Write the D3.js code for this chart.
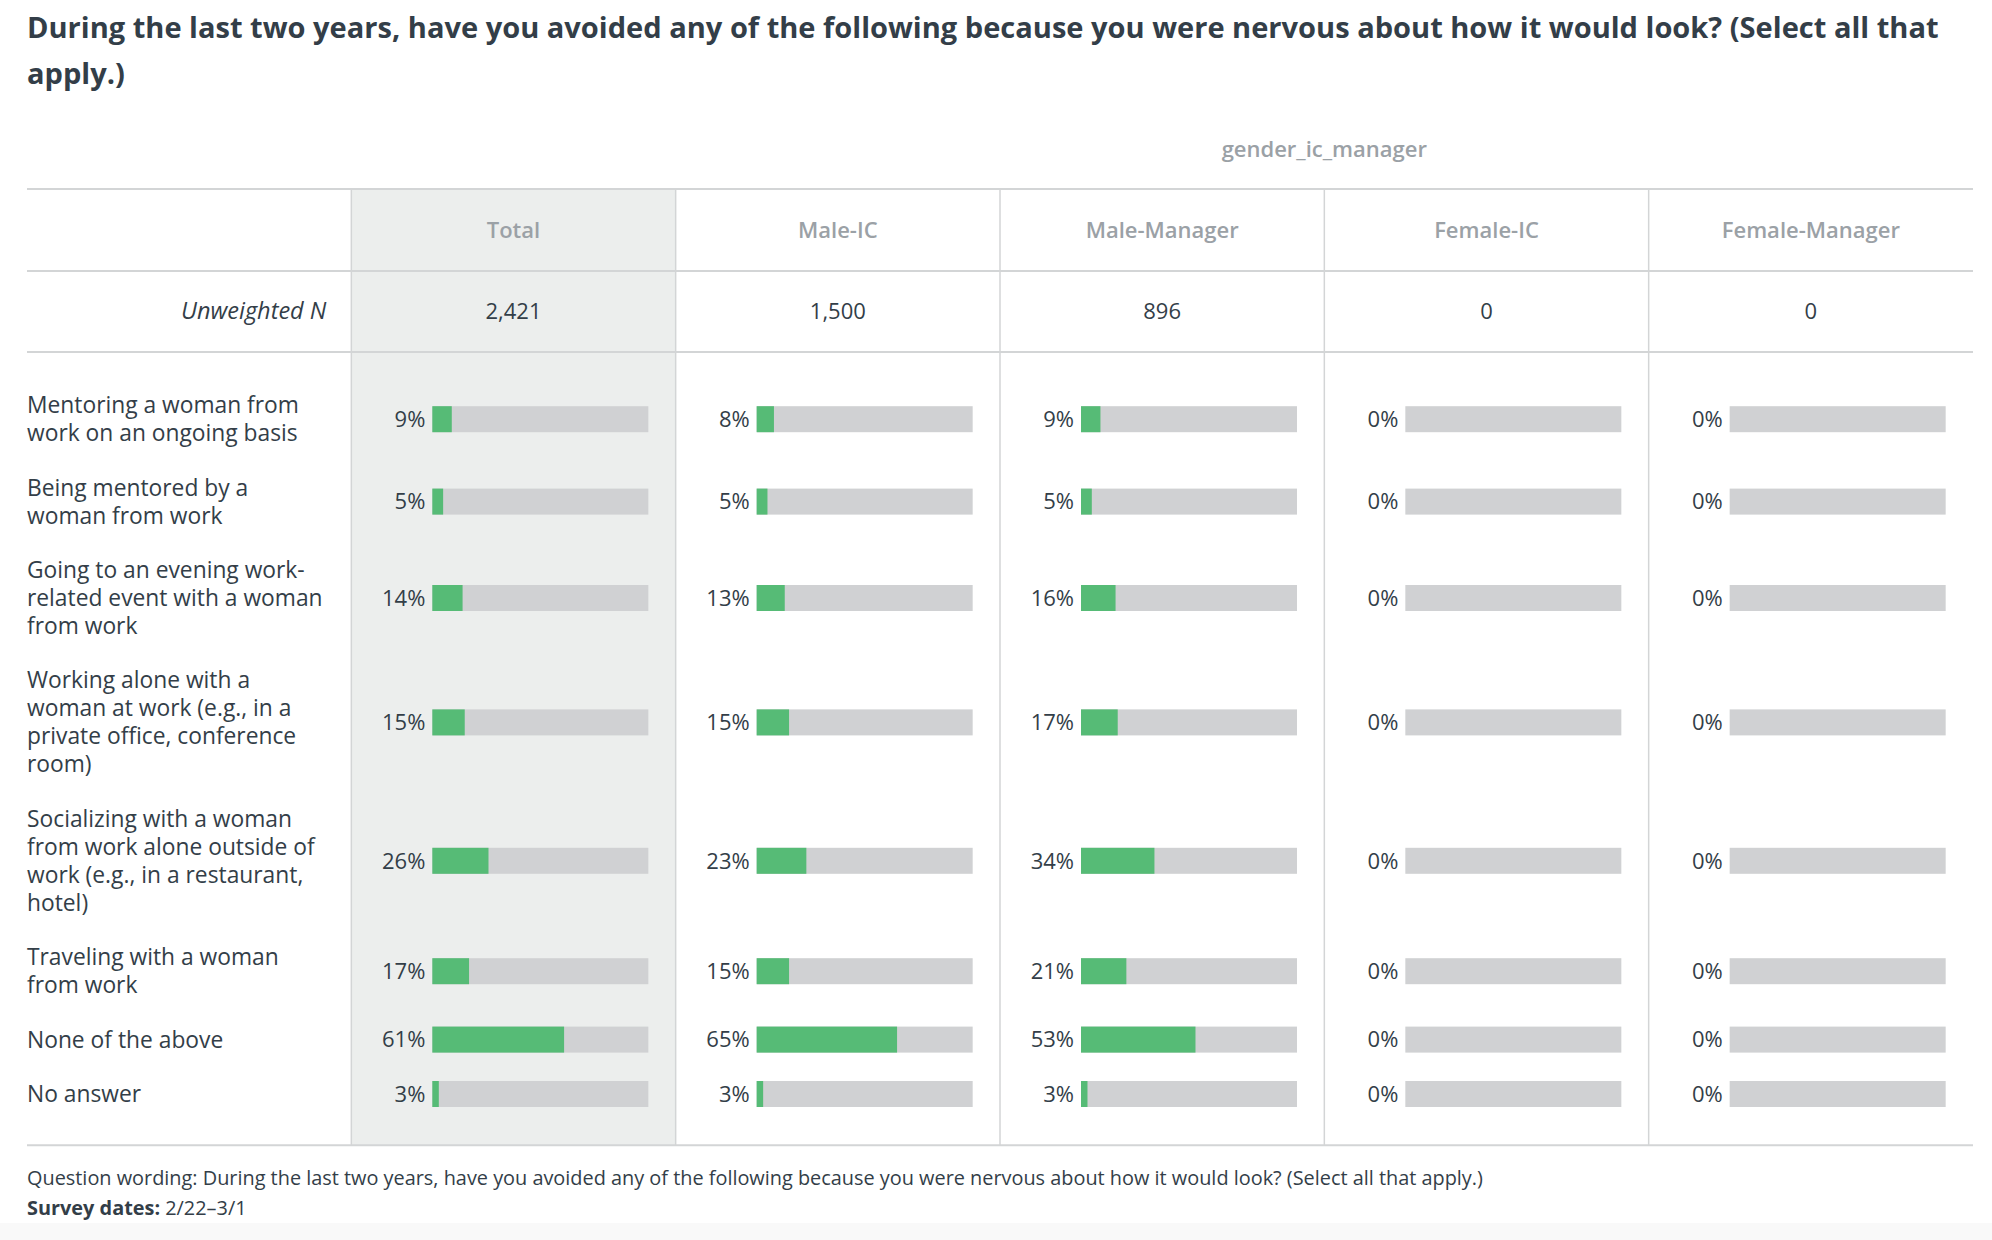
<!DOCTYPE html>
<html>
<head>
	<meta charset="utf-8">
	<title>Avoided because nervous about how it would look</title>
	<script src="https://cdn.jsdelivr.net/npm/d3@7"></script>
	<style>
		body { margin: 0; background: #fff; }
		text { font-family: "Open Sans", Roboto, sans-serif; }
	</style>
</head>
<body>
	<svg id="chart" width="1992" height="1240"></svg>
	<script>
		// data
		var titleLines = ["During the last two years, have you avoided any of the following because you were nervous about how it would look? (Select all that",
		                  "apply.)"]
		var spanner = "gender_ic_manager"
		var groups = ["Total", "Male-IC", "Male-Manager", "Female-IC", "Female-Manager"]
		var unweightedN = ["2,421", "1,500", "896", "0", "0"]
		var categories = [
			["Mentoring a woman from", "work on an ongoing basis"],
			["Being mentored by a", "woman from work"],
			["Going to an evening work-", "related event with a woman", "from work"],
			["Working alone with a", "woman at work (e.g., in a", "private office, conference", "room)"],
			["Socializing with a woman", "from work alone outside of", "work (e.g., in a restaurant,", "hotel)"],
			["Traveling with a woman", "from work"],
			["None of the above"],
			["No answer"]
		]
		var totalPct         = [9, 5, 14, 15, 26, 17, 61, 3]
		var maleICPct        = [8, 5, 13, 15, 23, 15, 65, 3]
		var maleManagerPct   = [9, 5, 16, 17, 34, 21, 53, 3]
		var femaleICPct      = [0, 0, 0, 0, 0, 0, 0, 0]
		var femaleManagerPct = [0, 0, 0, 0, 0, 0, 0, 0]
		var wording = "Question wording: During the last two years, have you avoided any of the following because you were nervous about how it would look? (Select all that apply.)"
		var surveyDates = "2/22\u20133/1"

		var series = [totalPct, maleICPct, maleManagerPct, femaleICPct, femaleManagerPct]

		var dark = "#333e48", grey = "#9ba1a6", rule = "#d3d5d6"
		var green = "#56bb76", track = "#d0d1d3", shade = "#eceeed"

		var svg = d3.select("#chart")
		var W = 1992, left = 27, right = 1973
		var tableTop = 189, headBottom = 271, nBottom = 352
		var lineH = 28, rowPad = 26.4, bodyPad = 26

		// shrink or grow a text node's font until it spans the wanted width
		function fitWidth(sel, want) {
			var node = sel.node(), fs = +sel.attr("font-size")
			var len = node.getComputedTextLength()
			sel.attr("font-size", fs * want / len)
		}

		// page band at the bottom
		svg.append("rect").attr("x", 0).attr("y", 1223).attr("width", W).attr("height", 17).attr("fill", "#f9f9f9")

		// columns
		var col = d3.scaleBand().domain(["label"].concat(groups)).range([left, right])
		var cw = col.bandwidth()

		// row layout from line counts
		var rowTops = [], y0 = nBottom + bodyPad
		categories.forEach(function(c) {
			var h = c.length * lineH + rowPad
			rowTops.push({top: y0, h: h})
			y0 += h
		})
		var tableBottom = y0 + bodyPad - 2

		// Total column shading
		svg.append("rect")
			.attr("x", col("Total")).attr("y", tableTop)
			.attr("width", cw).attr("height", tableBottom - tableTop)
			.attr("fill", shade)

		// vertical rules
		svg.selectAll("line.v")
			.data(groups)
			.enter().append("line")
			.attr("x1", d => col(d)).attr("x2", d => col(d))
			.attr("y1", tableTop).attr("y2", tableBottom)
			.attr("stroke", rule).attr("stroke-width", 1.5)

		// horizontal rules
		svg.selectAll("line.h")
			.data([tableTop, headBottom, nBottom, tableBottom])
			.enter().append("line")
			.attr("x1", left).attr("x2", right)
			.attr("y1", d => d).attr("y2", d => d)
			.attr("stroke", rule).attr("stroke-width", 2)

		// title
		var title = svg.append("text")
			.attr("x", left).attr("y", 28).attr("dy", "0.35em")
			.attr("fill", dark).attr("font-size", 28).attr("font-weight", 700)
		title.selectAll("tspan").data(titleLines).enter().append("tspan")
			.attr("x", left).attr("dy", (d, i) => i ? 46 : "0.35em")
			.text(d => d)
		var t1 = title.select("tspan").node()
		title.attr("font-size", 28 * 1913 / t1.getComputedTextLength())

		// spanner over the breakdown columns
		svg.append("text")
			.attr("x", (col("Male-IC") + right) / 2).attr("y", 149).attr("dy", "0.35em")
			.attr("text-anchor", "middle").attr("fill", grey)
			.attr("font-size", 22).attr("font-weight", 600)
			.text(spanner)

		// column headers
		svg.selectAll("text.head")
			.data(groups)
			.enter().append("text")
			.attr("x", d => col(d) + cw / 2).attr("y", 230).attr("dy", "0.35em")
			.attr("text-anchor", "middle").attr("fill", grey)
			.attr("font-size", 22).attr("font-weight", 600)
			.text(d => d)

		// unweighted N
		svg.append("text")
			.attr("x", col("Total") - 25).attr("y", 311).attr("dy", "0.35em")
			.attr("text-anchor", "end").attr("fill", dark)
			.attr("font-size", 23.5).attr("font-style", "italic")
			.text("Unweighted N")
		svg.selectAll("text.n")
			.data(unweightedN)
			.enter().append("text")
			.attr("x", (d, i) => col(groups[i]) + cw / 2).attr("y", 311).attr("dy", "0.35em")
			.attr("text-anchor", "middle").attr("fill", dark)
			.attr("font-size", 22)
			.text(d => d)

		// category labels
		categories.forEach(function(lines, r) {
			var cy = rowTops[r].top + rowTops[r].h / 2
			svg.append("text")
				.attr("fill", dark).attr("font-size", 22.8)
				.selectAll("tspan").data(lines).enter().append("tspan")
				.attr("x", left)
				.attr("y", (d, i) => cy + (i - (lines.length - 1) / 2) * lineH)
				.attr("dy", "0.35em")
				.text(d => d)
		})

		// bars
		var barOff = 81, barW = 216, barH = 26
		var x = d3.scaleLinear().domain([0, 100]).range([0, barW])

		series.forEach(function(vals, g) {
			var gx = col(groups[g]) + barOff
			var cells = svg.append("g").selectAll("g")
				.data(vals)
				.enter().append("g")
				.attr("transform", (d, r) => "translate(" + gx + "," + (rowTops[r].top + rowTops[r].h / 2) + ")")
			cells.append("rect")
				.attr("x", x(0)).attr("y", -barH / 2)
				.attr("width", x(100)).attr("height", barH)
				.attr("fill", track)
			cells.append("rect")
				.attr("x", x(0)).attr("y", -barH / 2)
				.attr("width", d => x(d)).attr("height", barH)
				.attr("fill", green)
			cells.append("text")
				.attr("x", -7).attr("dy", "0.35em")
				.attr("text-anchor", "end").attr("fill", dark)
				.attr("font-size", 22)
				.text(d => d + "%")
		})

		// footer
		var foot = svg.append("text")
			.attr("x", left).attr("y", 1178).attr("dy", "0.35em")
			.attr("fill", dark).attr("font-size", 19)
			.text(wording)
		fitWidth(foot, 1457)
		var sd = svg.append("text")
			.attr("x", left).attr("y", 1208).attr("dy", "0.35em")
			.attr("fill", dark).attr("font-size", foot.attr("font-size"))
		sd.append("tspan").attr("font-weight", 700).text("Survey dates: ")
		sd.append("tspan").text(surveyDates)
	</script>
</body>
</html>
